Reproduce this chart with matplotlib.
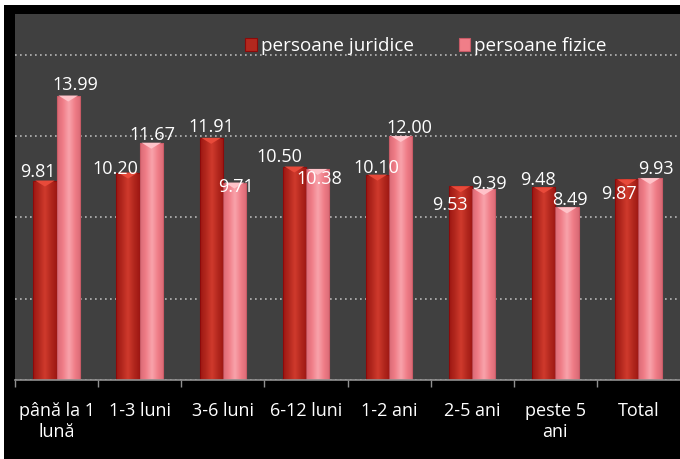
import matplotlib
matplotlib.use("Agg")
import matplotlib.pyplot as plt
import numpy as np
from matplotlib.patches import Rectangle, Polygon
from matplotlib.colors import LinearSegmentedColormap

categories = ["până la 1\nlună", "1-3 luni", "3-6 luni", "6-12 luni", "1-2 ani",
              "2-5 ani", "peste 5\nani", "Total"]
juridice = [9.81, 10.20, 11.91, 10.50, 10.10, 9.53, 9.48, 9.87]
fizice = [13.99, 11.67, 9.71, 10.38, 12.00, 9.39, 8.49, 9.93]
series_names = ["persoane juridice", "persoane fizice"]

# label offsets (points) to mimic the original placement
off_j = [(-5, 0), (-9, -4), (0, 1), (-11, 0), (-1, -2), (-8, -20), (-4, -1), (-6, -17)]
off_f = [(5, 1), (1, -1), (1, -10), (1, -14), (6, -1), (4, -3), (2, -1), (4, 0)]

plt.rcParams['font.family'] = ['Open Sans', 'DejaVu Sans']
FS = 13

fig = plt.figure(figsize=(6.8, 4.59), dpi=100, facecolor="white")
fig.patches.append(Rectangle((4 / 680, 0), 1, 1 - 5 / 459, transform=fig.transFigure,
                             facecolor="black", edgecolor="none", zorder=-10))
ax = fig.add_axes([15 / 680, 1 - 380 / 459, 1 - 15 / 680, (380 - 14) / 459])
ax.set_facecolor("#404040")

x = np.arange(len(categories))
w = 0.28
cols = {"j": ("#b3281e", "#8c0a0a", "#e84a3a"), "f": ("#f07e88", "#c85a66", "#ffc3c9")}

ax.set_xlim(-0.5, len(categories) - 0.5)
ax.set_ylim(0, 18)
ax.set_yticks([0, 4, 8, 12, 16])
ax.yaxis.grid(True, color="#b8b8b8", linestyle=(0, (1, 2)), linewidth=1.2)
ax.set_axisbelow(True)
ax.tick_params(axis="y", left=False, labelleft=False)

bars_j = ax.bar(x - w / 2, juridice, w, color=cols["j"][0], edgecolor=cols["j"][1],
                linewidth=0.8, label=series_names[0], zorder=2)
bars_f = ax.bar(x + w / 2, fizice, w, color=cols["f"][0], edgecolor=cols["f"][1],
                linewidth=0.8, label=series_names[1], zorder=2)

# pixel -> data units for bevel height
fig.canvas.draw()
p0 = ax.transData.transform((0, 0))
p1 = ax.transData.transform((0, 1))
unit_px = p1[1] - p0[1]
bev = 6 / unit_px

for bars, key in ((bars_j, "j"), (bars_f, "f")):
    base, edge, light = cols[key]
    for b in bars:
        bx, bw, bh = b.get_x(), b.get_width(), b.get_height()
        cmap = LinearSegmentedColormap.from_list("g", [edge, base, light, base, edge])
        grad = np.linspace(0, 1, 64).reshape(1, -1)
        im = ax.imshow(grad, extent=(bx, bx + bw, 0, bh), aspect="auto", cmap=cmap,
                       zorder=2.1, alpha=0.55)
        im.set_clip_path(b)
        tri = Polygon([(bx + bw * 0.08, bh), (bx + bw * 0.92, bh), (bx + bw / 2, bh - bev)],
                      closed=True, facecolor=light, edgecolor="none", zorder=2.2)
        ax.add_patch(tri)

for bars, offs in ((bars_j, off_j), (bars_f, off_f)):
    for b, (dx, dy) in zip(bars, offs):
        v = b.get_height()
        ax.annotate(f"{v:.2f}", (b.get_x() + b.get_width() / 2, v), xytext=(dx, dy),
                    textcoords="offset points", ha="center", va="bottom",
                    color="white", fontsize=FS, zorder=5)

ax.set_xticks(x)
ax.set_xticklabels(categories, color="white", fontsize=FS, linespacing=1.2)
ax.set_xticks(np.arange(len(categories)) - 0.5, minor=True)
ax.tick_params(axis="x", which="major", length=0, pad=16)
ax.tick_params(axis="x", which="minor", length=5, color="#909090", width=1)
for s in ("top", "right", "left"):
    ax.spines[s].set_visible(False)
ax.spines["bottom"].set_color("#909090")
ax.spines["bottom"].set_linewidth(1.2)

leg = ax.legend(loc="center", bbox_to_anchor=(0.618, 0.912), ncol=2, frameon=False,
                fontsize=13.6, labelcolor="white", handlelength=0.6, handleheight=0.7,
                handletextpad=0.2, columnspacing=2.4, borderpad=0)

fig.savefig("out.png", dpi=100, facecolor=fig.get_facecolor())
